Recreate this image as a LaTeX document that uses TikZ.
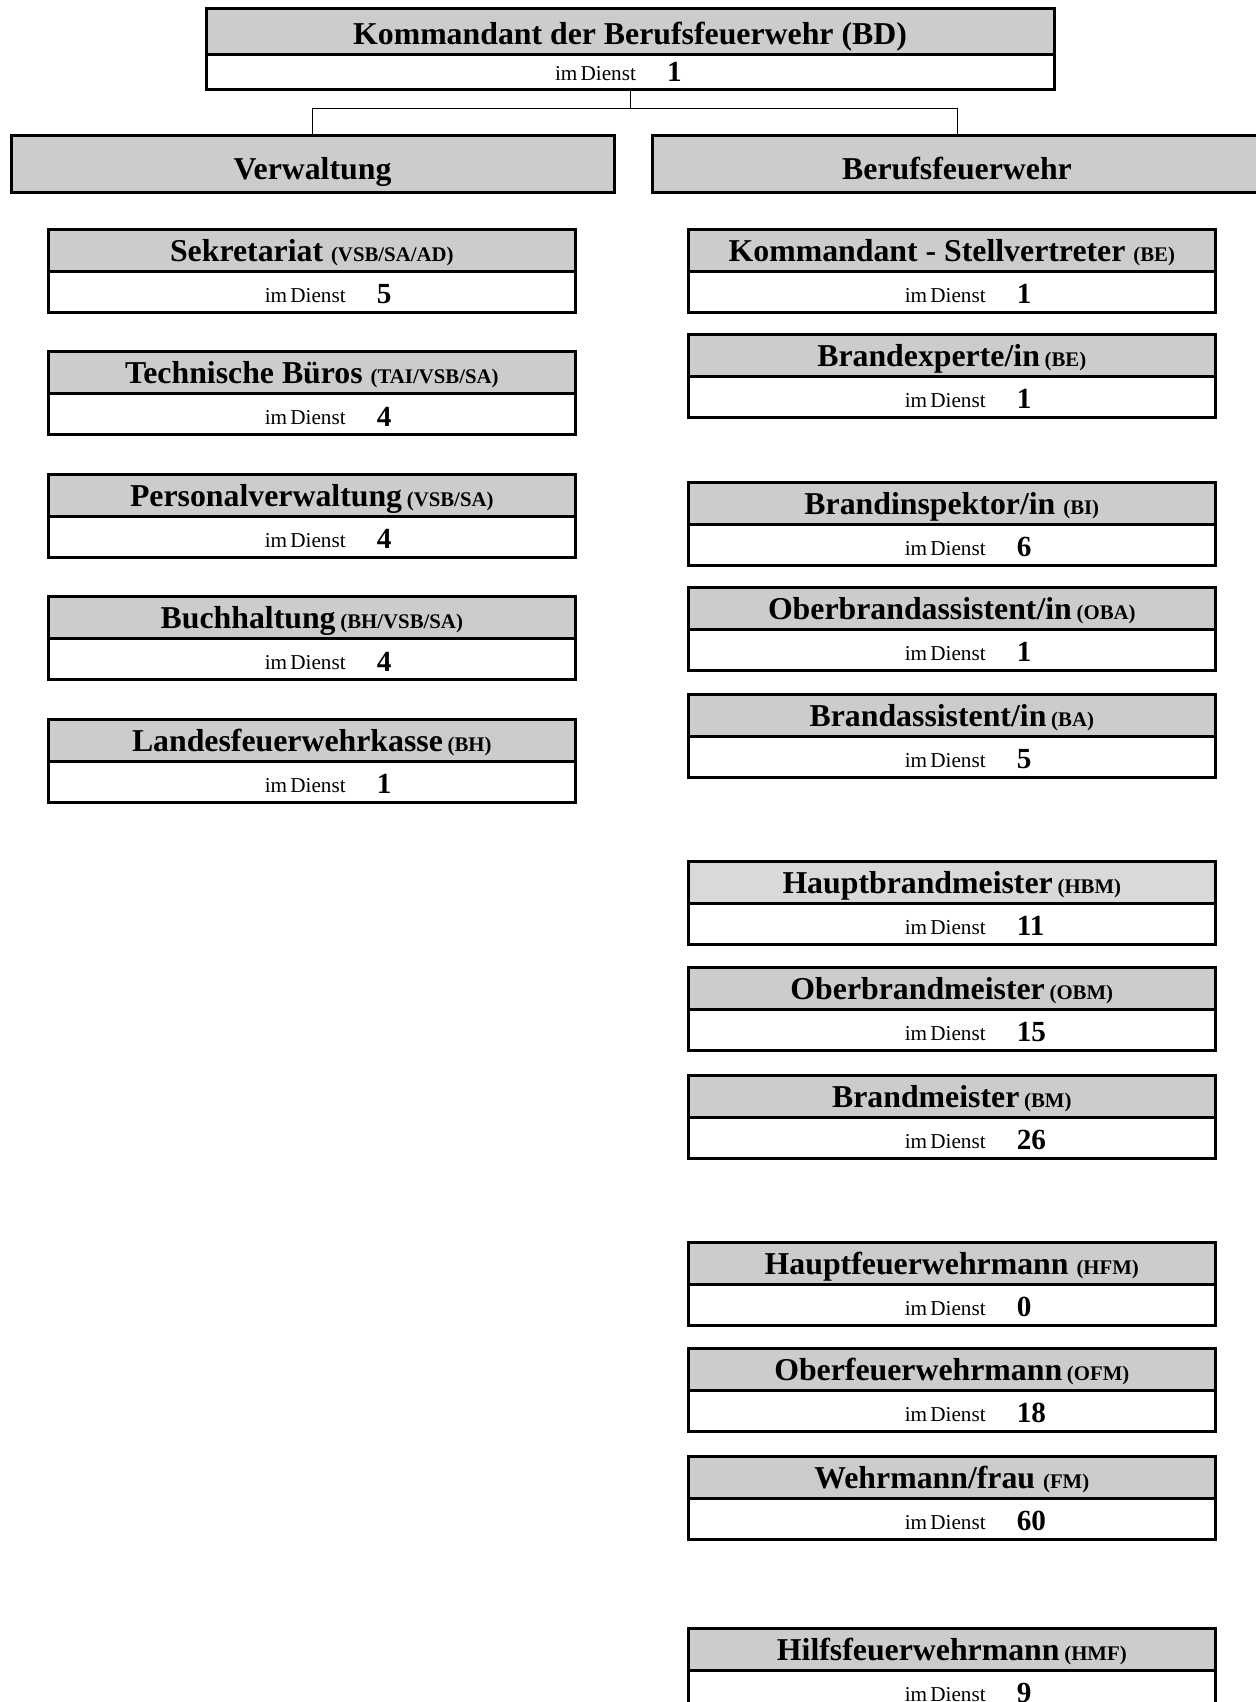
\documentclass[tikz,border=0pt]{standalone}
\usepackage{fontspec}
\setmainfont{Liberation Serif}
\usetikzlibrary{positioning}
\newcommand{\titel}{\fontsize{15.9}{18}\selectfont\bfseries}
\newcommand{\kurz}[1]{{\fontsize{10.4}{12}\selectfont\bfseries #1}}
\newcommand{\dienst}[2]{\makebox[#1][l]{\makebox[56pt][l]{\fontsize{10.6}{12}\selectfont im\hspace{0.15em}Dienst}\raisebox{-0.8pt}{\fontsize{14.6}{16}\selectfont\bfseries #2}}}
\tikzset{
	kopf/.style={draw, line width=1.5pt, fill=black!20, anchor=north west, inner sep=0pt, outer sep=0pt, minimum width=263.8pt, minimum height=21pt, font=\titel, text height=14.6pt, text depth=3.2pt},
	dienstbox/.style={draw, line width=1.5pt, fill=white, anchor=north west, inner sep=0pt, outer sep=0pt, minimum width=263.8pt, minimum height=20.5pt, text height=12pt, text depth=1.2pt}
}
\begin{document}
\begin{tikzpicture}[x=0.5pt, y=-0.5pt]
		\useasboundingbox (0,0) rectangle (1255,1702);
		%top
		\node[kopf, minimum width=424pt, minimum height=23pt, text height=15.7pt] (kdt) at (206,9) {Kommandant der Berufsfeuerwehr (BD)};
		\node[dienstbox, minimum width=424pt, minimum height=17.25pt, text height=9.3pt, below=0pt of kdt] (kdtd) {\dienst{75pt}{1}};
		
		\node[kopf, minimum width=301.5pt, minimum height=28pt, text height=18.4pt] (verw) at (11,136) {Verwaltung};
		\node[kopf, minimum width=305pt, minimum height=28pt, text height=18.4pt] (bf) at (652,136) {Berufsfeuerwehr};
		\draw[line width=0.5pt] (kdtd.south) -- ++(0,19.5) -| (verw.north);
		\draw[line width=0.5pt] (kdtd.south) -- ++(0,19.5) -| (bf.north);
		
		%Verwaltung
		\node[kopf] (sek) at (48,229) {Sekretariat \kurz{(VSB/SA/AD)}};
		\node[dienstbox, below=0pt of sek] (sekd) {\dienst{47pt}{5}};
		\node[kopf] (tb) at (48,351.5) {Technische Büros \kurz{(TAI/VSB/SA)}};
		\node[dienstbox, below=0pt of tb] (tbd) {\dienst{47pt}{4}};
		\node[kopf] (pv) at (48,474) {Personalverwaltung\hspace{0.15em}\kurz{(VSB/SA)}};
		\node[dienstbox, below=0pt of pv] (pvd) {\dienst{47pt}{4}};
		\node[kopf] (bh) at (48,596.5) {Buchhaltung\hspace{0.15em}\kurz{(BH/VSB/SA)}};
		\node[dienstbox, below=0pt of bh] (bhd) {\dienst{47pt}{4}};
		\node[kopf] (lfk) at (48,719) {Landesfeuerwehrkasse\hspace{0.15em}\kurz{(BH)}};
		\node[dienstbox, below=0pt of lfk] (lfkd) {\dienst{47pt}{1}};
		
		%Berufsfeuerwehr
		\node[kopf] (kst) at (688,229) {Kommandant - Stellvertreter \kurz{(BE)}};
		\node[dienstbox, below=0pt of kst] (kstd) {\dienst{47pt}{1}};
		\node[kopf] (bex) at (688,334) {Brandexperte/in\hspace{0.15em}\kurz{(BE)}};
		\node[dienstbox, below=0pt of bex] (bexd) {\dienst{47pt}{1}};
		
		\node[kopf] (bi) at (688,482) {Brandinspektor/in \kurz{(BI)}};
		\node[dienstbox, below=0pt of bi] (bid) {\dienst{47pt}{6}};
		\node[kopf] (oba) at (688,587) {Oberbrandassistent/in\hspace{0.15em}\kurz{(OBA)}};
		\node[dienstbox, below=0pt of oba] (obad) {\dienst{47pt}{1}};
		\node[kopf] (ba) at (688,694) {Brandassistent/in\hspace{0.15em}\kurz{(BA)}};
		\node[dienstbox, below=0pt of ba] (bad) {\dienst{47pt}{5}};
		
		\node[kopf, fill=black!15] (hbm) at (688,861) {Hauptbrandmeister\hspace{0.15em}\kurz{(HBM)}};
		\node[dienstbox, below=0pt of hbm] (hbmd) {\dienst{47pt}{11}};
		\node[kopf] (obm) at (688,967) {Oberbrandmeister\hspace{0.15em}\kurz{(OBM)}};
		\node[dienstbox, below=0pt of obm] (obmd) {\dienst{47pt}{15}};
		\node[kopf] (bm) at (688,1075) {Brandmeister\hspace{0.15em}\kurz{(BM)}};
		\node[dienstbox, below=0pt of bm] (bmd) {\dienst{47pt}{26}};
		
		\node[kopf] (hfm) at (688,1242) {Hauptfeuerwehrmann \kurz{(HFM)}};
		\node[dienstbox, below=0pt of hfm] (hfmd) {\dienst{47pt}{0}};
		\node[kopf] (ofm) at (688,1348) {Oberfeuerwehrmann\hspace{0.15em}\kurz{(OFM)}};
		\node[dienstbox, below=0pt of ofm] (ofmd) {\dienst{47pt}{18}};
		\node[kopf] (fm) at (688,1456) {Wehrmann/frau \kurz{(FM)}};
		\node[dienstbox, below=0pt of fm] (fmd) {\dienst{47pt}{60}};
		
		\node[kopf] (hifm) at (688,1628) {Hilfsfeuerwehrmann\hspace{0.15em}\kurz{(HMF)}};
		\node[dienstbox, below=0pt of hifm] (hifmd) {\dienst{47pt}{9}};
\end{tikzpicture}
\end{document}
